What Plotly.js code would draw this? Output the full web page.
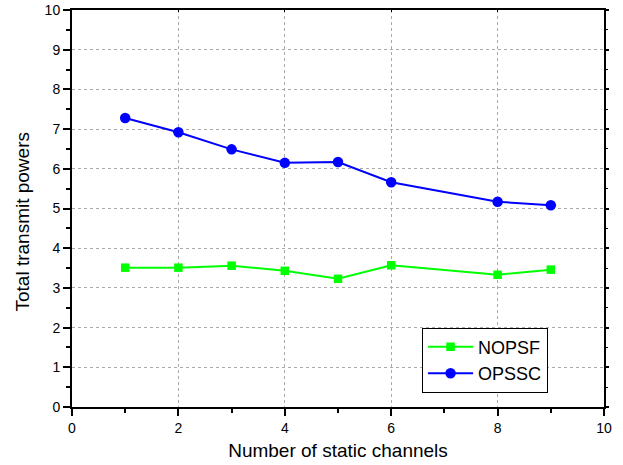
<!DOCTYPE html>
<html>
<head>
<meta charset="utf-8">
<script src="https://cdn.plot.ly/plotly-3.0.1.min.js"></script>
<style>html,body{margin:0;padding:0;background:#fff;}#chart{width:623px;height:465px;}</style>
</head>
<body>
<div id="chart"></div>
<script>
const channels = [1, 2, 3, 4, 5, 6, 8, 9];
const nopsf = [3.51, 3.51, 3.56, 3.43, 3.23, 3.57, 3.33, 3.46];
const opssc = [7.28, 6.92, 6.49, 6.15, 6.17, 5.66, 5.17, 5.08];
const seriesNames = ["NOPSF", "OPSSC"];
const xTitle = 'Number of static channels';
const yTitle = 'Total transmit powers';

const font = "Arial, 'Liberation Sans', sans-serif";

const traces = [
  {x: channels, y: nopsf, name: seriesNames[0], type: 'scatter', mode: 'lines+markers',
   line: {color: '#00ff00', width: 2}, marker: {symbol: 'square', size: 8.5, color: '#00ff00'}},
  {x: channels, y: opssc, name: seriesNames[1], type: 'scatter', mode: 'lines+markers',
   line: {color: '#0000ff', width: 2}, marker: {symbol: 'circle', size: 10.5, color: '#0000ff'}},
  {x: [0], y: [0], xaxis: 'x2', yaxis: 'y2', showlegend: false, hoverinfo: 'skip', mode: 'markers', marker: {opacity: 0}}
];

const layout = {
  width: 623, height: 465,
  margin: {l: 72, r: 19, t: 10, b: 58},
  paper_bgcolor: '#fff', plot_bgcolor: '#fff',
  font: {family: font, color: '#000'},
  showlegend: true,
  xaxis: {
    range: [0, 10], dtick: 2, tick0: 0,
    showline: true, linecolor: '#000', linewidth: 2,
    ticks: 'outside', ticklen: 7, tickwidth: 2, tickcolor: '#000',
    minor: {dtick: 1, ticks: 'outside', ticklen: 4, tickwidth: 2, tickcolor: '#000', showgrid: false},
    showgrid: true, gridcolor: '#aaa', griddash: 'dot', gridwidth: 1,
    zeroline: false,
    tickfont: {size: 14, family: font},
    title: {text: xTitle, font: {size: 19, family: font}, standoff: 9}
  },
  yaxis: {
    range: [0, 10], dtick: 1, tick0: 0,
    showline: true, linecolor: '#000', linewidth: 2,
    ticks: 'outside', ticklen: 7, tickwidth: 2, tickcolor: '#000',
    minor: {dtick: 0.5, ticks: 'outside', ticklen: 4, tickwidth: 2, tickcolor: '#000', showgrid: false},
    showgrid: true, gridcolor: '#aaa', griddash: 'dot', gridwidth: 1,
    zeroline: false,
    tickfont: {size: 14, family: font}
  },
  xaxis2: {
    overlaying: 'x', side: 'top', range: [0, 10], dtick: 2,
    showline: true, linecolor: '#000', linewidth: 2,
    ticks: 'inside', ticklen: 2, tickwidth: 1, tickcolor: '#000',
    showticklabels: false, showgrid: false, zeroline: false
  },
  yaxis2: {
    overlaying: 'y', side: 'right', range: [0, 10], dtick: 1,
    showline: true, linecolor: '#000', linewidth: 2,
    ticks: 'outside', ticklen: 3, tickwidth: 2, tickcolor: '#000',
    minor: {dtick: 0.5, ticks: 'outside', ticklen: 2, tickwidth: 1, tickcolor: '#000'},
    showticklabels: false, showgrid: false, zeroline: false
  },
  annotations: [{
    text: yTitle, textangle: -90, showarrow: false,
    xref: 'paper', yref: 'paper', x: -0.093, y: 0.466,
    xanchor: 'center', yanchor: 'middle',
    font: {size: 19, family: font, color: '#000'}
  }],
  legend: {
    x: 0.658, y: 0.2, xanchor: 'left', yanchor: 'top',
    bgcolor: '#fff', bordercolor: '#000', borderwidth: 1,
    itemwidth: 45,
    font: {size: 18, family: font}, tracegroupgap: 0
  }
};

Plotly.newPlot('chart', traces, layout, {displayModeBar: false, staticPlot: true});
</script>
</body>
</html>
